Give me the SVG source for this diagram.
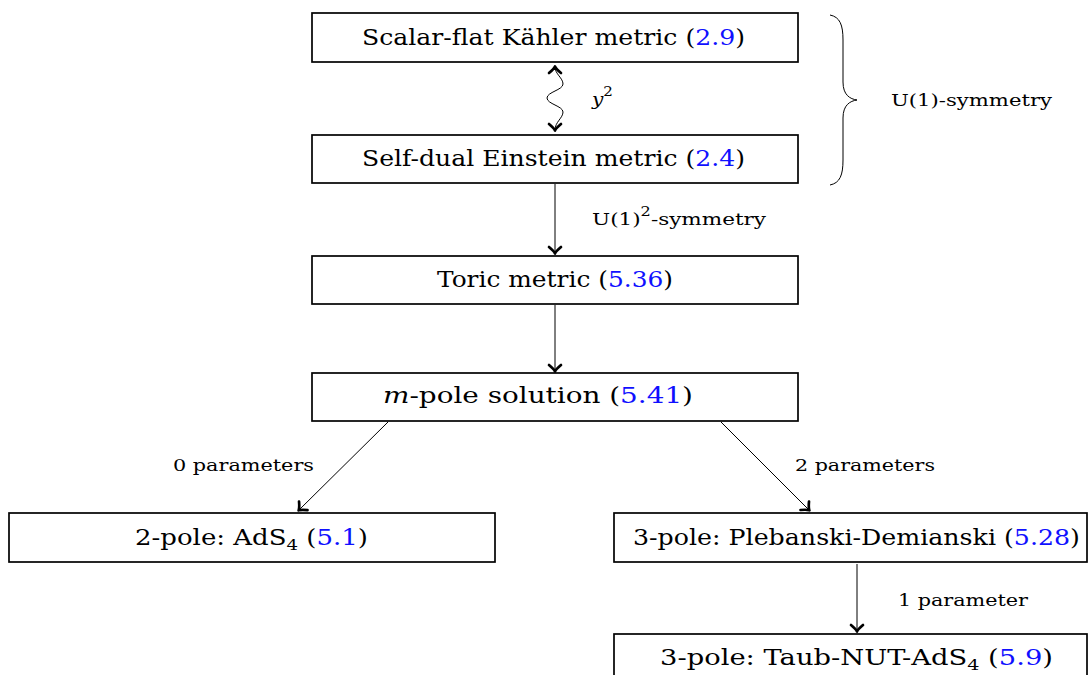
<svg xmlns="http://www.w3.org/2000/svg" width="1089" height="675" viewBox="0 0 1089 675">
<style>
.box{fill:#fff;stroke:#000;stroke-width:1.7}
.t{font-family:"DejaVu Serif","Liberation Serif",serif;font-size:21.5px;fill:#000}
.s{font-family:"DejaVu Serif","Liberation Serif",serif;font-size:16px;fill:#000}
.ref{fill:#1010ff}
.edge{fill:none;stroke:#000;stroke-width:1}
</style>
<defs>
<marker id="ah" markerUnits="userSpaceOnUse" markerWidth="18" markerHeight="18" viewBox="-9 -9 18 18" refX="0" refY="0" orient="auto-start-reverse">
<path d="M-6,-6 C-3.5,-3 -1.5,-0.8 0.5,0 C-1.5,0.8 -3.5,3 -6,6" fill="none" stroke="#000" stroke-width="2.7" stroke-linecap="round" stroke-linejoin="round"/>
</marker>
</defs>
<g id="connectors">
<path class="edge" d="M555,67 C555,74 563,78 563,84 C563,90 547,92 547,98 C547,104 563,106 563,112 C563,118 555,122 555,130" marker-start="url(#ah)" marker-end="url(#ah)"/>
<line class="edge" x1="555" y1="184" x2="555" y2="253" marker-end="url(#ah)"/>
<line class="edge" x1="555" y1="305" x2="555" y2="371" marker-end="url(#ah)"/>
<line class="edge" x1="388" y1="422" x2="299" y2="510" marker-end="url(#ah)"/>
<line class="edge" x1="721" y1="422" x2="809" y2="510" marker-end="url(#ah)"/>
<line class="edge" x1="857" y1="564" x2="857" y2="631" marker-end="url(#ah)"/>
<path class="edge" d="M830,15 C840,17 843,25 843,40 L843,82 C843,95 850,99 857,100 C850,101 843,105 843,118 L843,160 C843,175 840,183 830,185"/>
<text class="s" x="592" y="105" textLength="21" lengthAdjust="spacingAndGlyphs"><tspan font-style="italic">y</tspan><tspan font-size="12" dy="-9">2</tspan></text>
<text class="s" x="592" y="225" textLength="174" lengthAdjust="spacingAndGlyphs">U(1)<tspan font-size="12" dy="-9">2</tspan><tspan dy="9">-symmetry</tspan></text>
<text class="s" x="173" y="471" textLength="141" lengthAdjust="spacingAndGlyphs">0 parameters</text>
<text class="s" x="795" y="471" textLength="140" lengthAdjust="spacingAndGlyphs">2 parameters</text>
<text class="s" x="898" y="606" textLength="130" lengthAdjust="spacingAndGlyphs">1 parameter</text>
<text class="s" x="891" y="106" textLength="161" lengthAdjust="spacingAndGlyphs">U(1)-symmetry</text>
</g>
<g id="n1">
<rect class="box" x="312" y="13" width="486" height="49"/>
<text class="t" x="362" y="45" textLength="383" lengthAdjust="spacingAndGlyphs">Scalar-flat Kähler metric (<tspan class="ref">2.9</tspan>)</text>
</g>
<g id="n2">
<rect class="box" x="312" y="135" width="486" height="48"/>
<text class="t" x="362" y="166" textLength="383" lengthAdjust="spacingAndGlyphs">Self-dual Einstein metric (<tspan class="ref">2.4</tspan>)</text>
</g>
<g id="n3">
<rect class="box" x="312" y="256" width="486" height="48"/>
<text class="t" x="437" y="287" textLength="236" lengthAdjust="spacingAndGlyphs">Toric metric (<tspan class="ref">5.36</tspan>)</text>
</g>
<g id="n4">
<rect class="box" x="312" y="373" width="486" height="48"/>
<text class="t" x="383" y="403" textLength="310" lengthAdjust="spacingAndGlyphs"><tspan font-style="italic">m</tspan>-pole solution (<tspan class="ref">5.41</tspan>)</text>
</g>
<g id="n5">
<rect class="box" x="9" y="513" width="486" height="49"/>
<text class="t" x="135" y="545" textLength="233" lengthAdjust="spacingAndGlyphs">2-pole:  AdS<tspan font-size="15" dy="5">4</tspan><tspan dy="-5"> (</tspan><tspan class="ref">5.1</tspan>)</text>
</g>
<g id="n6">
<rect class="box" x="614" y="513" width="473" height="49"/>
<text class="t" x="633" y="545" textLength="447" lengthAdjust="spacingAndGlyphs">3-pole:  Plebanski-Demianski (<tspan class="ref">5.28</tspan>)</text>
</g>
<g id="n7">
<rect class="box" x="614" y="634" width="473" height="50"/>
<text class="t" x="660" y="665" textLength="393" lengthAdjust="spacingAndGlyphs">3-pole:   Taub-NUT-AdS<tspan font-size="15" dy="5">4</tspan><tspan dy="-5"> (</tspan><tspan class="ref">5.9</tspan>)</text>
</g>
</svg>
